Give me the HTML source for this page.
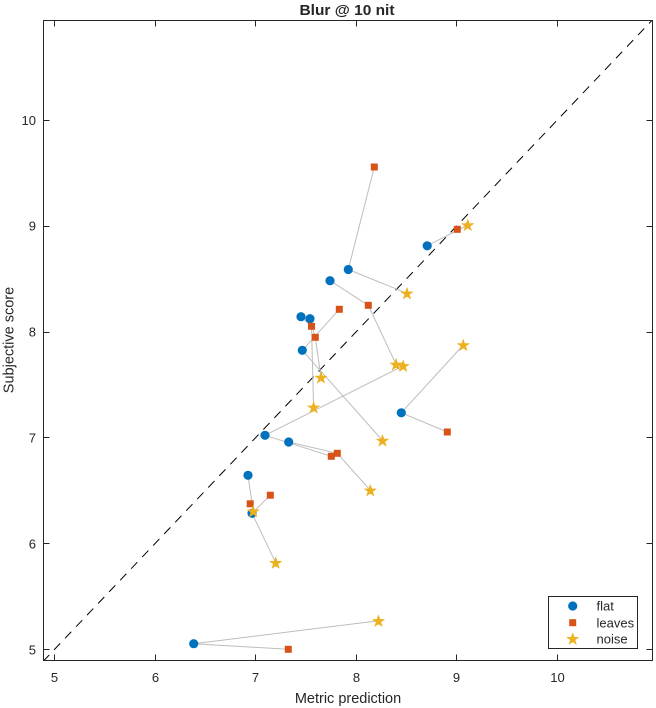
<!DOCTYPE html>
<html>
<head>
<meta charset="utf-8">
<style>
html,body{margin:0;padding:0;background:#fff;}
svg{display:block;}
text{font-family:"Liberation Sans",Arial,sans-serif;fill:#262626;}
</style>
</head>
<body>
<svg width="656" height="708" viewBox="0 0 656 708" xmlns="http://www.w3.org/2000/svg">
<defs>
<clipPath id="ax"><rect x="43.5" y="20.5" width="609" height="640"/></clipPath>
<path id="star" d="M0,-6.2 L1.39,-1.92 L5.9,-1.92 L2.25,0.73 L3.65,5.02 L0,2.37 L-3.65,5.02 L-2.25,0.73 L-5.9,-1.92 L-1.39,-1.92 Z" fill="#EDB120" stroke="#EDB120" stroke-width="0.6" stroke-linejoin="round"/>
</defs>

<rect x="0" y="0" width="656" height="708" fill="#fff"/>

<!-- diagonal -->
<g clip-path="url(#ax)">
<line x1="43" y1="661.5" x2="652.5" y2="19.8" stroke="#000" stroke-width="1" stroke-dasharray="9,7"/>
</g>

<!-- connecting lines -->
<g stroke="#BDBDBD" stroke-width="1" fill="none">
<line x1="193.7" y1="643.7" x2="288.3" y2="649.3"/>
<line x1="193.7" y1="643.7" x2="378.5" y2="620.8"/>
<line x1="248" y1="475.3" x2="253.2" y2="511.2"/>
<line x1="270.3" y1="495.2" x2="252" y2="513.3"/>
<line x1="252" y1="513.3" x2="275.7" y2="562.7"/>
<line x1="265" y1="435.3" x2="331.3" y2="456.3"/>
<line x1="288.7" y1="442" x2="337.3" y2="453.3"/>
<line x1="337.3" y1="453.3" x2="370.3" y2="490.3"/>
<line x1="265" y1="435.3" x2="403.2" y2="365.8"/>
<line x1="302.3" y1="350.3" x2="382.5" y2="440.5"/>
<line x1="302.3" y1="350.3" x2="339.3" y2="309.3"/>
<line x1="301" y1="316.7" x2="311.5" y2="326.3"/>
<line x1="311.5" y1="326.3" x2="313.6" y2="407.3"/>
<line x1="310" y1="318.7" x2="315.3" y2="337.3"/>
<line x1="315.3" y1="337.3" x2="321" y2="377.5"/>
<line x1="348.3" y1="269.5" x2="374.3" y2="167"/>
<line x1="348.3" y1="269.5" x2="407" y2="293.3"/>
<line x1="330" y1="280.7" x2="368.3" y2="305.3"/>
<line x1="368.3" y1="305.3" x2="396" y2="364.3"/>
<line x1="401.3" y1="412.8" x2="463.3" y2="345"/>
<line x1="401.3" y1="412.8" x2="447.3" y2="432"/>
<line x1="427.2" y1="245.8" x2="467.7" y2="225"/>
</g>

<!-- flat -->
<g fill="#0072BD">
<circle cx="193.7" cy="643.7" r="4.6"/>
<circle cx="248" cy="475.3" r="4.6"/>
<circle cx="252" cy="513.3" r="4.6"/>
<circle cx="265" cy="435.3" r="4.6"/>
<circle cx="288.7" cy="442" r="4.6"/>
<circle cx="301" cy="316.7" r="4.6"/>
<circle cx="310" cy="318.7" r="4.6"/>
<circle cx="302.3" cy="350.3" r="4.6"/>
<circle cx="330" cy="280.7" r="4.6"/>
<circle cx="348.3" cy="269.5" r="4.6"/>
<circle cx="401.3" cy="412.8" r="4.6"/>
<circle cx="427.2" cy="245.8" r="4.6"/>
</g>

<!-- leaves -->
<g fill="#D95319">
<rect x="284.8" y="645.8" width="7" height="7"/>
<rect x="246.7" y="500.3" width="7" height="7"/>
<rect x="266.8" y="491.7" width="7" height="7"/>
<rect x="327.8" y="452.8" width="7" height="7"/>
<rect x="333.8" y="449.8" width="7" height="7"/>
<rect x="308" y="322.8" width="7" height="7"/>
<rect x="311.8" y="333.8" width="7" height="7"/>
<rect x="335.8" y="305.8" width="7" height="7"/>
<rect x="364.8" y="301.8" width="7" height="7"/>
<rect x="370.8" y="163.5" width="7" height="7"/>
<rect x="443.8" y="428.5" width="7" height="7"/>
<rect x="453.8" y="225.8" width="7" height="7"/>
</g>

<!-- noise -->
<g>
<use href="#star" x="378.5" y="621.3"/>
<use href="#star" x="275.7" y="563.2"/>
<use href="#star" x="253.2" y="511.7"/>
<use href="#star" x="370.3" y="490.8"/>
<use href="#star" x="382.5" y="441"/>
<use href="#star" x="313.6" y="407.8"/>
<use href="#star" x="321" y="378"/>
<use href="#star" x="396" y="364.8"/>
<use href="#star" x="403.2" y="366.3"/>
<use href="#star" x="407" y="293.8"/>
<use href="#star" x="463.3" y="345.5"/>
<use href="#star" x="467.7" y="225.5"/>
</g>

<!-- axes box -->
<rect x="43.5" y="20.5" width="609" height="640" fill="none" stroke="#262626" stroke-width="1"/>

<!-- ticks -->
<g stroke="#262626" stroke-width="1">
<line x1="54.5" y1="660.5" x2="54.5" y2="654.5"/>
<line x1="155.5" y1="660.5" x2="155.5" y2="654.5"/>
<line x1="255.5" y1="660.5" x2="255.5" y2="654.5"/>
<line x1="356.5" y1="660.5" x2="356.5" y2="654.5"/>
<line x1="456.5" y1="660.5" x2="456.5" y2="654.5"/>
<line x1="557.5" y1="660.5" x2="557.5" y2="654.5"/>
<line x1="54.5" y1="20.5" x2="54.5" y2="26.5"/>
<line x1="155.5" y1="20.5" x2="155.5" y2="26.5"/>
<line x1="255.5" y1="20.5" x2="255.5" y2="26.5"/>
<line x1="356.5" y1="20.5" x2="356.5" y2="26.5"/>
<line x1="456.5" y1="20.5" x2="456.5" y2="26.5"/>
<line x1="557.5" y1="20.5" x2="557.5" y2="26.5"/>
<line x1="43.5" y1="649.5" x2="49.5" y2="649.5"/>
<line x1="43.5" y1="543.5" x2="49.5" y2="543.5"/>
<line x1="43.5" y1="437.5" x2="49.5" y2="437.5"/>
<line x1="43.5" y1="332.5" x2="49.5" y2="332.5"/>
<line x1="43.5" y1="226.5" x2="49.5" y2="226.5"/>
<line x1="43.5" y1="120.5" x2="49.5" y2="120.5"/>
<line x1="652.5" y1="649.5" x2="646.5" y2="649.5"/>
<line x1="652.5" y1="543.5" x2="646.5" y2="543.5"/>
<line x1="652.5" y1="437.5" x2="646.5" y2="437.5"/>
<line x1="652.5" y1="332.5" x2="646.5" y2="332.5"/>
<line x1="652.5" y1="226.5" x2="646.5" y2="226.5"/>
<line x1="652.5" y1="120.5" x2="646.5" y2="120.5"/>
</g>

<!-- tick labels -->
<g font-size="13" text-anchor="middle">
<text x="54.5" y="682">5</text>
<text x="155.5" y="682">6</text>
<text x="255.5" y="682">7</text>
<text x="356.5" y="682">8</text>
<text x="456.5" y="682">9</text>
<text x="557.5" y="682">10</text>
</g>
<g font-size="13" text-anchor="end">
<text x="36" y="654.3">5</text>
<text x="36" y="548.4">6</text>
<text x="36" y="442.5">7</text>
<text x="36" y="336.6">8</text>
<text x="36" y="230.7">9</text>
<text x="36" y="124.8">10</text>
</g>

<!-- title and labels -->
<text x="347" y="15" font-size="14.5" font-weight="bold" text-anchor="middle" textLength="95" lengthAdjust="spacingAndGlyphs">Blur @ 10 nit</text>
<text x="348" y="703" font-size="14.5" text-anchor="middle">Metric prediction</text>
<text transform="translate(13.5,340) rotate(-90)" font-size="14.5" text-anchor="middle">Subjective score</text>

<!-- legend -->
<rect x="548.5" y="596.5" width="89" height="52" fill="#fff" stroke="#262626" stroke-width="1"/>
<circle cx="572.7" cy="606" r="4.6" fill="#0072BD"/>
<rect x="569.2" y="619.2" width="7" height="7" fill="#D95319"/>
<use href="#star" x="572.7" y="639.2"/>
<g font-size="13">
<text x="596.5" y="610.6">flat</text>
<text x="596.5" y="627.3">leaves</text>
<text x="596.5" y="643.3">noise</text>
</g>
</svg>
</body>
</html>
